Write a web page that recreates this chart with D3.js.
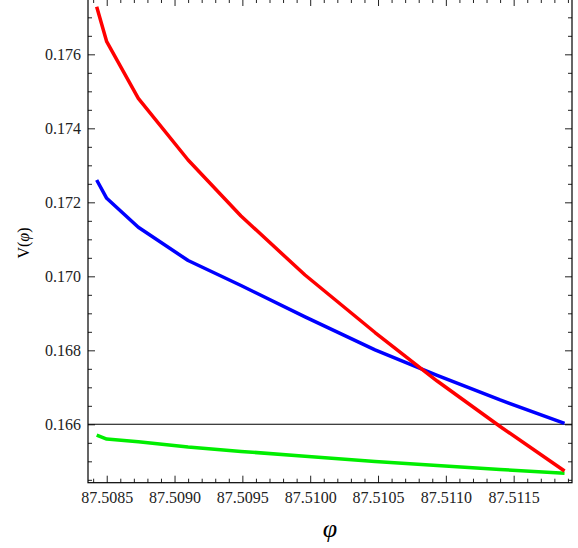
<!DOCTYPE html>
<html>
<head>
<meta charset="utf-8">
<script src="https://cdn.jsdelivr.net/npm/d3@7"></script>
<style>
  html, body { margin: 0; padding: 0; background: #fff; }
  svg { display: block; }
  .domain { display: none; }
</style>
</head>
<body>
<div id="chart"></div>
<script>
// Sample points along phi (shared by the three curves)
const phiValues = [87.508426, 87.5085, 87.508733, 87.5091, 87.50949,
                   87.509962, 87.510478, 87.510936, 87.5114, 87.511875];

// V(phi) for each curve
const redValues = [0.177286, 0.176341, 0.174811, 0.173143, 0.171630,
                   0.170035, 0.168481, 0.167170, 0.165941, 0.164738];
const blueValues = [0.172603, 0.172108, 0.171324, 0.170427, 0.169751,
                    0.168903, 0.168014, 0.167324, 0.166659, 0.166027];
const greenValues = [0.165711, 0.165603, 0.165530, 0.165387, 0.165268,
                     0.165138, 0.164995, 0.164884, 0.164781, 0.164676];

// Reference level drawn as a horizontal line
const refLevel = 0.166;

// Tick labels
const xTickValues = [87.5085, 87.5090, 87.5095, 87.5100, 87.5105, 87.5110, 87.5115];
const yTickValues = [0.166, 0.168, 0.170, 0.172, 0.174, 0.176];

const width = 578, height = 548;
const frame = { left: 88, right: 572, top: -1, bottom: 482.7 };
const serif = '"Liberation Serif", "DejaVu Serif", serif';

const svg = d3.select('#chart')
    .append('svg')
    .attr('width', width)
    .attr('height', height);

const x = d3.scaleLinear()
    .domain([87.508362, 87.51193])
    .range([frame.left, frame.right]);

const y = d3.scaleLinear()
    .domain([0.164422, 0.177495])
    .range([frame.bottom, frame.top]);

// minor tick positions
const xMinor = d3.range(87.5084, 87.51195, 0.0001).filter(v => !xTickValues.some(t => Math.abs(t - v) < 1e-8));
const yMinor = d3.range(0.1645, 0.1775, 0.0005).filter(v => !yTickValues.some(t => Math.abs(t - v) < 1e-8));

function drawAxis(axisFn, scale, values, size, transform, labels, fmt, pad) {
    const ax = axisFn(scale)
        .tickValues(values)
        .tickSize(-size)
        .tickPadding(pad || 0)
        .tickFormat(labels ? d3.format(fmt) : '');
    const g = svg.append('g')
        .attr('transform', transform)
        .call(ax)
        .attr('font-family', serif)
        .attr('font-size', 16);
    g.selectAll('.tick line').attr('stroke', '#222').attr('stroke-width', 1);
    g.selectAll('.tick text').attr('fill', '#222');
    return g;
}

// bottom
drawAxis(d3.axisBottom, x, xTickValues, 7, `translate(0,${frame.bottom})`, true, '.4f', 9);
drawAxis(d3.axisBottom, x, xMinor, 4, `translate(0,${frame.bottom})`, false);
// top
drawAxis(d3.axisTop, x, xTickValues, 7, `translate(0,${frame.top})`, false);
drawAxis(d3.axisTop, x, xMinor, 4, `translate(0,${frame.top})`, false);
// left
drawAxis(d3.axisLeft, y, yTickValues, 7, `translate(${frame.left},0)`, true, '.3f', 7);
drawAxis(d3.axisLeft, y, yMinor, 4, `translate(${frame.left},0)`, false);
// right
drawAxis(d3.axisRight, y, yTickValues, 7, `translate(${frame.right},0)`, false);
drawAxis(d3.axisRight, y, yMinor, 4, `translate(${frame.right},0)`, false);

// frame
svg.append('rect')
    .attr('x', frame.left)
    .attr('y', frame.top)
    .attr('width', frame.right - frame.left)
    .attr('height', frame.bottom - frame.top)
    .attr('fill', 'none')
    .attr('stroke', '#000')
    .attr('stroke-width', 1.2);

// reference line
svg.append('line')
    .attr('x1', frame.left)
    .attr('x2', frame.right)
    .attr('y1', y(refLevel))
    .attr('y2', y(refLevel))
    .attr('stroke', '#000')
    .attr('stroke-width', 1.1);

// curves
const line = d3.line()
    .x(d => x(d[0]))
    .y(d => y(d[1]));

const series = [
    { values: greenValues, color: '#00ee00' },
    { values: blueValues, color: '#0000ff' },
    { values: redValues, color: '#ff0000' }
];

svg.append('g')
    .selectAll('path')
    .data(series)
    .join('path')
    .attr('d', s => line(phiValues.map((p, i) => [p, s.values[i]])))
    .attr('fill', 'none')
    .attr('stroke', s => s.color)
    .attr('stroke-width', 3.5)
    .attr('stroke-linejoin', 'round');

// axis titles
svg.append('text')
    .attr('x', (frame.left + frame.right) / 2)
    .attr('y', 537)
    .attr('text-anchor', 'middle')
    .attr('font-family', serif)
    .attr('font-style', 'italic')
    .attr('font-size', 26)
    .text('φ');

const yTitle = svg.append('text')
    .attr('transform', 'translate(29,243) rotate(-90)')
    .attr('text-anchor', 'middle')
    .attr('font-family', serif)
    .attr('font-size', 16);
yTitle.append('tspan').text('V(');
yTitle.append('tspan').attr('font-style', 'italic').text('φ');
yTitle.append('tspan').text(')');
</script>
</body>
</html>
